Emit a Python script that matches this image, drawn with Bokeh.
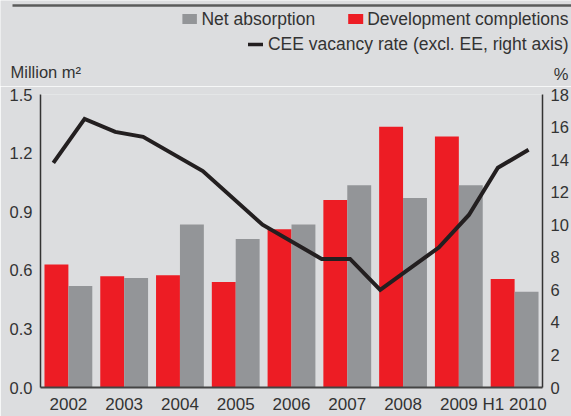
from bokeh.plotting import figure
from bokeh.models import Range1d, LinearAxis, FixedTicker, PrintfTickFormatter
from bokeh.layouts import column
from bokeh.core.properties import value
from bokeh.embed import file_html
from bokeh.resources import INLINE

# ---- data ----
categories = ["2002", "2003", "2004", "2005", "2006", "2007", "2008", "2009", "H1 2010"]
completions = [0.63, 0.57, 0.575, 0.54, 0.81, 0.96, 1.335, 1.285, 0.555]
absorption = [0.52, 0.56, 0.835, 0.76, 0.835, 1.035, 0.97, 1.035, 0.49]
vacancy_pos = [0.23, 0.79, 1.34, 1.84, 2.91, 3.98, 5.04, 5.55, 6.09, 7.14, 7.68, 8.20, 8.75]
vacancy = [13.8, 16.5, 15.7, 15.4, 13.3, 10.0, 7.9, 7.9, 6.0, 8.6, 10.6, 13.5, 14.6]
left_ticks = [0.0, 0.3, 0.6, 0.9, 1.2, 1.5]
right_ticks = [0, 2, 4, 6, 8, 10, 12, 14, 16, 18]
series_names = ["Net absorption", "Development completions",
                "CEE vacancy rate (excl. EE, right axis)"]
left_unit = "Million m²"
right_unit = "%"

# ---- style ----
BG = "#dcdddf"
RED = "#ed1c24"
GREY = "#939598"
LINE = "#231f20"
TXT = "#333333"
FONT = "Liberation Sans"

W, H = 571, 416
HEAD = 86

# ---------- header strip: rule, legend, unit captions (pixel layout) ----------
h = figure(width=W, height=HEAD, output_backend="svg", toolbar_location=None,
           x_range=Range1d(0, W), y_range=Range1d(HEAD, 0),
           x_axis_type=None, y_axis_type=None, min_border=0)
h.frame_align = False
h.background_fill_color = BG
h.border_fill_color = BG
h.outline_line_color = None
h.xgrid.visible = False
h.ygrid.visible = False

h.quad(left=[12], right=[W], top=[3.7], bottom=[6.2], fill_color="#5b5b5b", line_color=None)

# legend swatches
h.quad(left=[181.9], right=[196.4], top=[13.5], bottom=[23.5], fill_color=GREY, line_color=None)
h.quad(left=[347.7], right=[362.7], top=[13.5], bottom=[23.5], fill_color=RED, line_color=None)
h.quad(left=[247.5], right=[262.5], top=[42.3], bottom=[45.7], fill_color=LINE, line_color=None)

def htext(x, y, s, align, size):
    h.text(x=[x], y=[y], text=[s], text_font=value(FONT), text_font_size=size,
           text_color=TXT, text_align=align, text_baseline="middle")

htext(314.7, 18.5, series_names[0], "right", "17.5px")
htext(568, 18.5, series_names[1], "right", "17.5px")
htext(568, 43.5, series_names[2], "right", "17.5px")
htext(10, 71.5, left_unit, "left", "16.5px")
htext(568, 73, right_unit, "right", "16.5px")

# ---------- main chart ----------
p = figure(width=W, height=H - HEAD, output_backend="svg", toolbar_location=None,
           x_range=Range1d(0, len(categories)), y_range=Range1d(0, 1.5),
           min_border_left=40, min_border_right=27, min_border_top=94 - HEAD,
           min_border_bottom=29)
p.frame_align = False
p.background_fill_color = BG
p.border_fill_color = BG
p.outline_line_color = None
p.xgrid.visible = False
p.ygrid.visible = False

idx = list(range(len(categories)))
bw = 24 / 56
p.vbar(x=[i + 16 / 56 for i in idx], top=completions, width=bw, fill_color=RED, line_color=None)
p.vbar(x=[i + 40 / 56 for i in idx], top=absorption, width=bw, fill_color=GREY, line_color=None)

p.extra_y_ranges = {"pct": Range1d(0, 18)}
p.line(x=vacancy_pos, y=vacancy, y_range_name="pct", line_color=LINE, line_width=4,
       line_join="miter")

def style_axis(ax, size, standoff):
    ax.major_tick_line_color = None
    ax.minor_tick_line_color = None
    ax.major_tick_out = 0
    ax.major_tick_in = 0
    ax.minor_tick_out = 0
    ax.minor_tick_in = 0
    ax.major_label_text_font = FONT
    ax.major_label_text_font_size = size
    ax.major_label_text_color = TXT
    ax.major_label_standoff = standoff

xa = p.xaxis[0]
xa.ticker = FixedTicker(ticks=[i + 0.5 for i in idx])
xa.major_label_overrides = {i + 0.5: c for i, c in zip(idx, categories)}
style_axis(xa, "17px", 7)
xa.axis_line_color = "#444444"
xa.axis_line_width = 2

ya = p.yaxis[0]
ya.ticker = FixedTicker(ticks=left_ticks)
ya.formatter = PrintfTickFormatter(format="%.1f")
style_axis(ya, "16.5px", 8)
ya.axis_line_color = "#333333"
ya.axis_line_width = 1.5

ra = LinearAxis(y_range_name="pct", ticker=FixedTicker(ticks=right_ticks))
style_axis(ra, "16.5px", 8)
ra.axis_line_color = "#333333"
ra.axis_line_width = 1.5
p.add_layout(ra, "right")

layout = column(h, p, spacing=0)
open("out.html", "w").write(file_html(layout, INLINE))
